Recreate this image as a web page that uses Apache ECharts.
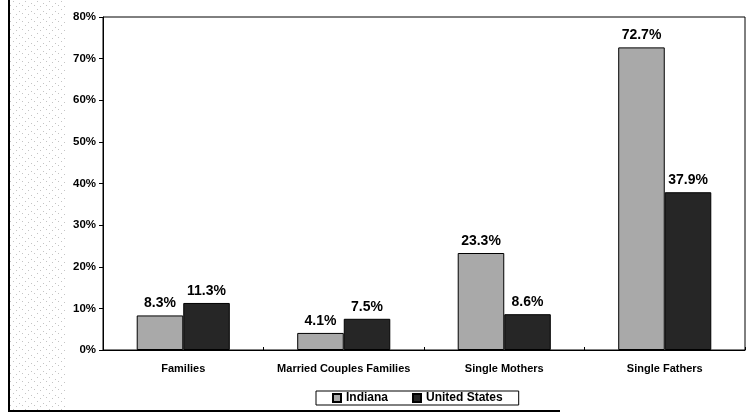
<!DOCTYPE html>
<html>
<head>
<meta charset="utf-8">
<script src="https://cdn.jsdelivr.net/npm/echarts@6/dist/echarts.min.js"></script>
<style>
html,body{margin:0;padding:0;background:#fff;}
#chart{width:756px;height:416px;}
</style>
</head>
<body>
<div id="chart"></div>
<script>
const categories = ['Families', 'Married Couples Families', 'Single Mothers', 'Single Fathers'];
const indiana = [8.3, 4.1, 23.3, 72.7];
const unitedStates = [11.3, 7.5, 8.6, 37.9];
const seriesNames = ['Indiana', 'United States'];

const FONT = '"Liberation Sans", Arial, sans-serif';

function makeSpeckle() {
  const c = document.createElement('canvas');
  c.width = 12; c.height = 8;
  const g = c.getContext('2d');
  g.fillStyle = '#ffffff'; g.fillRect(0, 0, 12, 8);
  g.fillStyle = '#c4c4c4';
  g.fillRect(1, 1, 1, 1); g.fillRect(7, 3, 1, 1); g.fillRect(4, 6, 1, 1); g.fillRect(10, 5, 1, 1);
  return c;
}

const chart = echarts.init(document.getElementById('chart'), null, {renderer: 'canvas'});
chart.setOption({
  animation: false,
  backgroundColor: '#ffffff',
  textStyle: {fontFamily: FONT},
  grid: {
    left: 103, right: 11, top: 17, bottom: 66,
    show: true, borderColor: '#000', borderWidth: 1, backgroundColor: 'transparent'
  },
  legend: {
    data: seriesNames,
    left: 316, top: 391,
    orient: 'horizontal',
    padding: [1, 16, 1, 16],
    itemGap: 24,
    itemWidth: 8, itemHeight: 8,
    icon: 'rect',
    borderColor: '#000', borderWidth: 1,
    textStyle: {fontFamily: FONT, fontWeight: 'bold', fontSize: 12, color: '#000'}
  },
  xAxis: {
    type: 'category',
    data: categories,
    axisLine: {lineStyle: {color: '#000', width: 1}},
    axisTick: {show: true, inside: true, length: 3, lineStyle: {color: '#000'}},
    axisLabel: {interval: 0, fontFamily: FONT, fontWeight: 'bold', fontSize: 11, color: '#000', margin: 13}
  },
  yAxis: {
    type: 'value',
    min: 0, max: 80, interval: 10,
    splitLine: {show: false},
    axisLine: {show: true, lineStyle: {color: '#000', width: 1}},
    axisTick: {show: true, length: 4, lineStyle: {color: '#000'}},
    axisLabel: {fontFamily: FONT, fontWeight: 'bold', fontSize: 11.5, color: '#000', margin: 7,
      formatter: v => v + '%'}
  },
  series: [
    {
      name: seriesNames[0], type: 'bar', data: indiana,
      barGap: '0%', barCategoryGap: '42%',
      itemStyle: {color: '#a9a9a9', borderColor: '#000', borderWidth: 1},
      label: {show: true, position: 'top', distance: 5, fontFamily: FONT, fontWeight: 'bold',
        fontSize: 14, color: '#000', formatter: p => p.value.toFixed(1) + '%'}
    },
    {
      name: seriesNames[1], type: 'bar', data: unitedStates,
      itemStyle: {color: '#262626', borderColor: '#000', borderWidth: 1},
      label: {show: true, position: 'top', distance: 5, fontFamily: FONT, fontWeight: 'bold',
        fontSize: 14, color: '#000', formatter: p => p.value.toFixed(1) + '%'}
    }
  ],
  graphic: [
    {type: 'rect', shape: {x: 10, y: 0, width: 56, height: 410},
      style: {fill: {image: makeSpeckle(), repeat: 'repeat'}}, silent: true, z: -10},
    {type: 'line', shape: {x1: 9, y1: 0, x2: 9, y2: 411}, style: {stroke: '#000', lineWidth: 2}, silent: true},
    {type: 'line', shape: {x1: 8, y1: 411, x2: 560, y2: 411}, style: {stroke: '#000', lineWidth: 2}, silent: true}
  ]
});
</script>
</body>
</html>
